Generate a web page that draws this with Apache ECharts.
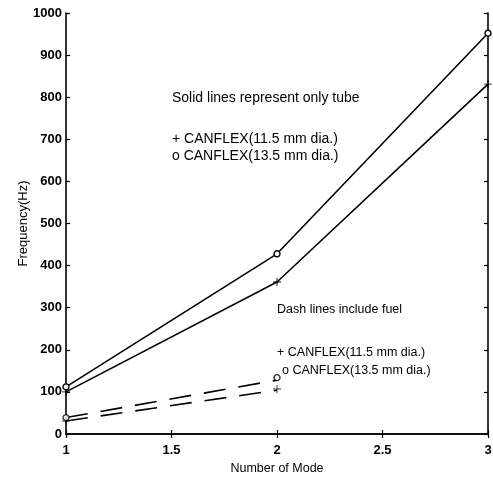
<!DOCTYPE html>
<html><head><meta charset="utf-8">
<script src="https://cdn.jsdelivr.net/npm/echarts@6/dist/echarts.min.js"></script>
<style>html,body{margin:0;padding:0;background:#fff}#c{width:493px;height:477px}</style>
</head><body><div id="c"></div>
<script>
const modes = [1, 2, 3];
const tube115 = [100, 361, 831];
const tube135 = [112, 428, 952];
const fuelModes = [1, 2];
const fuel115 = [31, 104];
const fuel135 = [39, 128];
const fuel115Marker = [31, 107];
const fuel135Marker = [39, 134];
const xTicks = [1, 1.5, 2, 2.5, 3];
const yTicks = [0, 100, 200, 300, 400, 500, 600, 700, 800, 900, 1000];

const FONT = 'Liberation Sans, Arial, sans-serif';
const plus = 'path://M-0.7,-6H0.7V-0.7H6V0.7H0.7V6H-0.7V0.7H-6V-0.7H-0.7Z';
const pairs = (xs, ys) => xs.map((x, i) => [x, ys[i]]);

const chart = echarts.init(document.getElementById('c'));
const axisBase = {
  axisLine: {show: true, lineStyle: {color: '#000', width: 1.6}},
  axisTick: {show: true, inside: true, length: 4, lineStyle: {color: '#000', width: 1.2}},
  splitLine: {show: false},
  nameMoveOverlap: false
};
const lineSeries = (data, symbol, size, dashed) => ({
  type: 'line', data, symbol, symbolSize: size, showSymbol: true,
  lineStyle: {color: '#000', width: 1.6, type: dashed ? [22, 13] : 'solid'},
  itemStyle: {color: symbol === 'circle' ? '#fff' : '#000', borderColor: '#000', borderWidth: symbol === 'circle' ? 1.4 : 0},
  z: 3, animation: false
});
chart.setOption({
  animation: false,
  grid: {left: 66, right: 5, top: 13, bottom: 43, outerBoundsMode: 'none', containLabel: false},
  xAxis: [
    Object.assign({}, axisBase, {type: 'value', min: 1, max: 3, interval: 0.5,
      name: 'Number of Mode', nameLocation: 'middle', nameGap: 28,
      nameTextStyle: {color: '#000', fontFamily: FONT, fontSize: 12.5},
      axisLabel: {color: '#000', fontFamily: FONT, fontSize: 13, fontWeight: 'bold', margin: 10,
        formatter: v => xTicks.includes(v) ? String(v) : ''}}),
    Object.assign({}, axisBase, {type: 'value', min: 1, max: 3, interval: 0.5, position: 'top',
      axisLabel: {show: false}})
  ],
  yAxis: [
    Object.assign({}, axisBase, {type: 'value', min: 0, max: 1000, interval: 100,
      name: 'Frequency(Hz)', nameLocation: 'middle', nameGap: 36,
      nameTextStyle: {color: '#000', fontFamily: FONT, fontSize: 13},
      axisLabel: {color: '#000', fontFamily: FONT, fontSize: 13, fontWeight: 'bold', margin: 4,
        formatter: v => yTicks.includes(v) ? String(v) : ''}}),
    Object.assign({}, axisBase, {type: 'value', min: 0, max: 1000, interval: 100, position: 'right',
      axisLabel: {show: false}})
  ],
  series: [
    lineSeries(pairs(modes, tube115), plus, 8, false),
    lineSeries(pairs(modes, tube135), 'circle', 6, false),
    Object.assign(lineSeries(pairs(fuelModes, fuel115), 'none', 0, true), {symbol: 'none'}),
    Object.assign(lineSeries(pairs(fuelModes, fuel135), 'none', 0, true), {symbol: 'none'}),
    {type: 'scatter', data: pairs(fuelModes, fuel115Marker), symbol: plus, symbolSize: 8,
      itemStyle: {color: '#000'}, z: 4},
    {type: 'scatter', data: pairs(fuelModes, fuel135Marker), symbol: 'circle', symbolSize: 6,
      itemStyle: {color: '#fff', borderColor: '#000', borderWidth: 1.4}, z: 4}
  ],
  graphic: [
    {type: 'text', left: 172, top: 91, style: {text: 'Solid lines represent only tube', font: '14px ' + FONT, fill: '#000'}},
    {type: 'text', left: 172, top: 132, style: {text: '+ CANFLEX(11.5 mm dia.)', font: '14px ' + FONT, fill: '#000'}},
    {type: 'text', left: 172, top: 149, style: {text: 'o CANFLEX(13.5 mm dia.)', font: '14px ' + FONT, fill: '#000'}},
    {type: 'text', left: 277, top: 303, style: {text: 'Dash lines include fuel', font: '12.5px ' + FONT, fill: '#000'}},
    {type: 'text', left: 277, top: 346, style: {text: '+ CANFLEX(11.5 mm dia.)', font: '12.5px ' + FONT, fill: '#000'}},
    {type: 'text', left: 282, top: 364, style: {text: 'o CANFLEX(13.5 mm dia.)', font: '12.5px ' + FONT, fill: '#000'}}
  ]
});
</script></body></html>
